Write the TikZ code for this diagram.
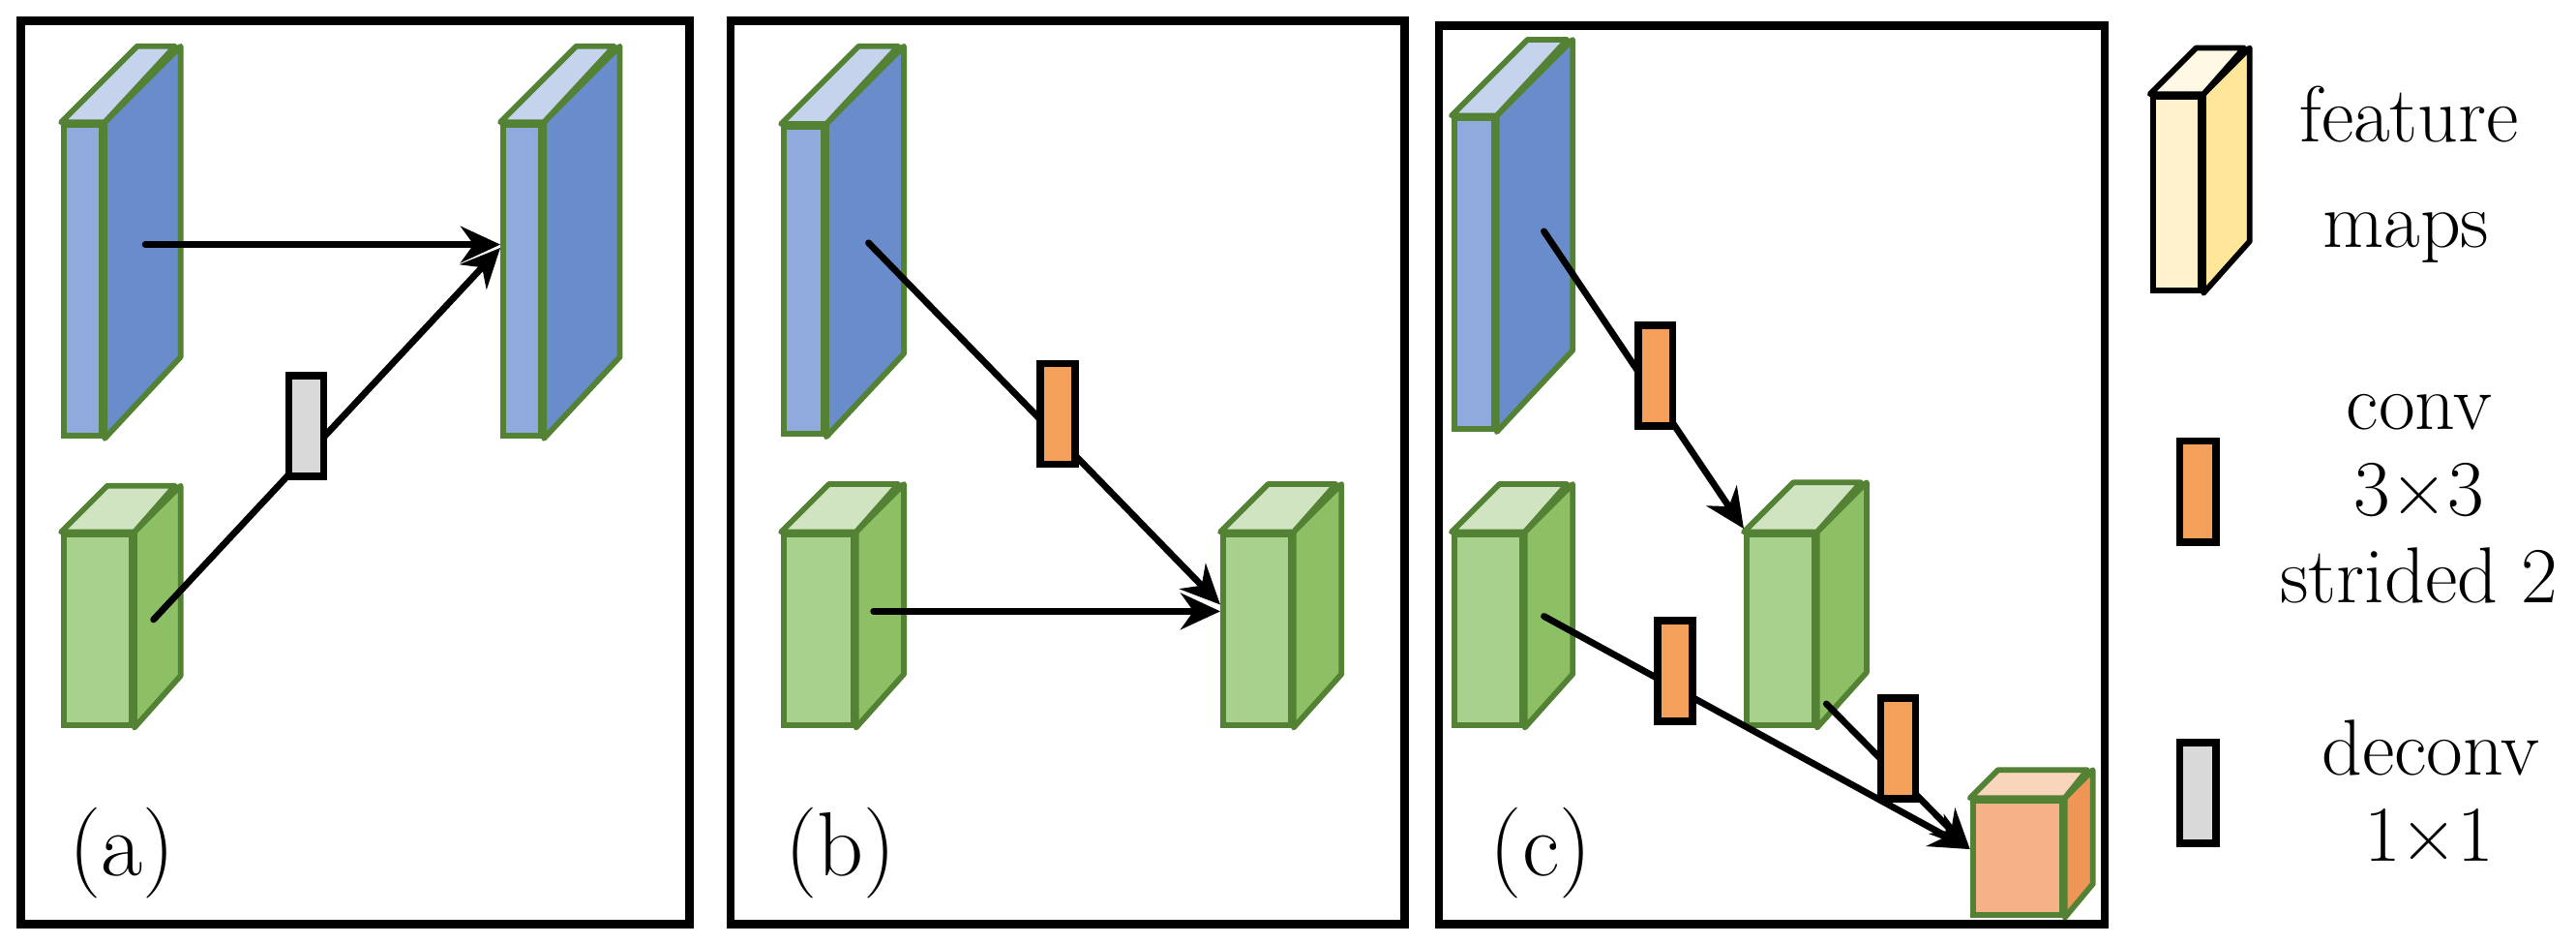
\documentclass[tikz,border=0pt]{standalone}
\usetikzlibrary{arrows.meta}
\definecolor{blue-f}{HTML}{8FAADC}\definecolor{blue-s}{HTML}{698CCB}\definecolor{blue-t}{HTML}{C5D3EC}\definecolor{blue-l}{HTML}{548235}
\definecolor{green-f}{HTML}{A9D18E}\definecolor{green-s}{HTML}{8DC064}\definecolor{green-t}{HTML}{D0E4C2}\definecolor{green-l}{HTML}{548235}
\definecolor{orange-f}{HTML}{F4B286}\definecolor{orange-s}{HTML}{EF9555}\definecolor{orange-t}{HTML}{F9D5BC}\definecolor{orange-l}{HTML}{548235}
\definecolor{yellow-f}{HTML}{FFF2CC}\definecolor{yellow-s}{HTML}{FFE699}\definecolor{yellow-t}{HTML}{FFF8E4}\definecolor{yellow-l}{HTML}{000000}
\definecolor{convc}{HTML}{F4A05A}\definecolor{deconvc}{HTML}{D9D9D9}
\newcommand\featbox[7]{%
  \node[draw=#7-l, fill=#7-f, line width=3.4pt, minimum width=#4pt, minimum height=#5pt, inner sep=0pt, anchor=north west] (#1) at (#2,#3) {};
  \filldraw[fill=#7-s, draw=#7-l, line width=3.4pt, line join=round] (#1.north east) -- ++(#6,-#6) -- ++(0,#5) -- (#1.south east) -- cycle;
  \filldraw[fill=#7-t, draw=#7-l, line width=3.4pt, line join=round] (#1.north west) -- ++(#6,-#6) -- ++(#4,0) -- (#1.north east) -- cycle;
}
\tikzset{
  panel/.style={draw=black, line width=5pt},
  op/.style={draw=black, line width=4.5pt, minimum width=21pt, minimum height=61pt, inner sep=0pt},
  conv/.style={op, fill=convc},
  deconv/.style={op, fill=deconvc},
  conn/.style={line width=4pt, line cap=round, -{Stealth[length=24pt,width=22pt]}},
  lab/.style={font=\fontsize{55}{60}\selectfont, anchor=base},
  leg/.style={font=\fontsize{48}{56}\selectfont, anchor=base},
}
\begin{document}
\begin{tikzpicture}[x=1pt,y=-1pt]
\useasboundingbox (0,0) rectangle (1560,571);
% panels
\node[panel, minimum width=405pt, minimum height=547pt, anchor=north west, inner sep=0pt] (pa) at (10,10) {};
\node[panel, minimum width=408pt, minimum height=547pt, anchor=north west, inner sep=0pt] (pb) at (440,10) {};
\node[panel, minimum width=403pt, minimum height=544pt, anchor=north west, inner sep=0pt] (pc) at (869,13) {};
% panel a
\featbox{a1}{37}{74}{23}{188}{46}{blue}
\featbox{a2}{37}{322}{41}{115}{28}{green}
\featbox{a3}{303}{74}{23}{188}{46}{blue}
\coordinate (a1s) at (88,148); \coordinate (a3e) at (303,148);
\coordinate (a2s) at (93,375); \coordinate (a3e2) at (303,150);
\draw[conn] (a1s) -- (a3e);
\draw[conn] (a2s) -- (a3e2);
\node[deconv] (ad) at (185.5,258) {};
\node[lab] (la) at (74,530) {(a)};
% panel b
\featbox{b1}{473}{75}{24}{186}{47}{blue}
\featbox{b2}{473}{322}{42}{115}{29}{green}
\featbox{b3}{739}{322}{41}{115}{29}{green}
\coordinate (b1s) at (526,147); \coordinate (b3e) at (739,366);
\coordinate (b2s) at (529,370); \coordinate (b3e2) at (739,370);
\draw[conn] (b1s) -- (b3e);
\draw[conn] (b2s) -- (b3e2);
\node[conv] (bc) at (640.5,250.5) {};
\node[lab] (lb) at (509,530) {(b)};
% panel c
\featbox{c1}{879}{70}{24}{188}{46}{blue}
\featbox{c2}{879}{322}{41}{115}{29}{green}
\featbox{c3}{1056}{322}{41}{115}{30}{green}
\featbox{c4}{1193}{483}{54}{69}{17}{orange}
\coordinate (c1s) at (935,140); \coordinate (c3e) at (1056,320);
\coordinate (c2s) at (935,373); \coordinate (c4e) at (1193,514);
\coordinate (c3s) at (1106,426);
\draw[conn] (c1s) -- (c3e);
\draw[conn] (c2s) -- (c4e);
\draw[conn] (c3s) -- (c4e);
\node[conv] (cr1) at (1002.5,227.5) {};
\node[conv] (cr2) at (1014.5,406) {};
\node[conv] (cr3) at (1149.5,453) {};
\node[lab] (lc) at (933,530) {(c)};
% legend
\featbox{lg}{1302}{57}{29}{117}{28}{yellow}
\node[conv, minimum width=22pt] (lgc) at (1331,297.5) {};
\node[deconv, minimum width=22pt] (lgd) at (1331,480) {};
\node[leg] (t1) at (1459,86) {feature};
\node[leg] (t2) at (1457,150) {maps};
\node[leg] (t3) at (1465,260) {conv};
\node[leg] (t4) at (1465,312) {3\texttimes3};
\node[leg] (t5) at (1465,365) {strided 2};
\node[leg] (t6) at (1472,469) {deconv};
\node[leg] (t7) at (1471,521) {1\texttimes1};
\end{tikzpicture}
\end{document}
